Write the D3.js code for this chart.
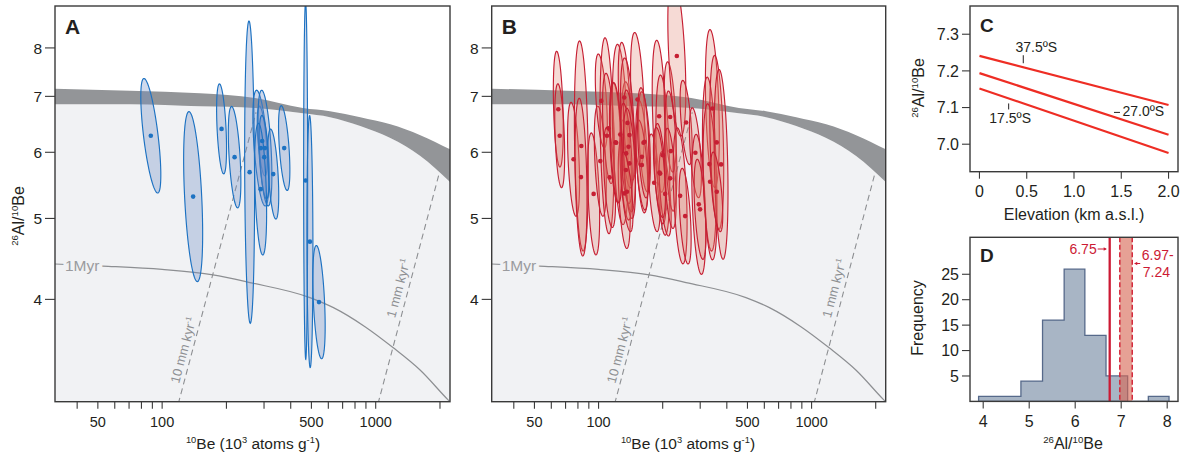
<!DOCTYPE html>
<html><head><meta charset="utf-8">
<script src="https://cdn.jsdelivr.net/npm/d3@7"></script>
<style>
body{margin:0;background:#fff}
text{font-family:"Liberation Sans",Arial,Helvetica,sans-serif;fill:#231f20}
</style>
</head><body><svg id="c" width="1189" height="456"></svg>
<script>
// ---------------- DATA ----------------
const beDomain = [31.5, 2228];
const ratioDomain = [3.017, 8.98];
const beMajorTicks = [50, 100, 500, 1000];
const beMinorTicks = [40, 60, 70, 80, 90, 200, 300, 400, 600, 700, 800, 900, 2000];
const ratioTicks = [4, 5, 6, 7, 8];

// grey band (constant exposure / steady-state envelope)
const bandBe    = [31.5, 70.6, 150.5, 272.4, 456, 611, 847, 1171, 1618, 2228];
const bandUpper = [7.15, 7.11, 7.06, 6.97, 6.78, 6.72, 6.61, 6.48, 6.29, 6.05];
const bandLower = [6.85, 6.85, 6.81, 6.78, 6.68, 6.61, 6.45, 6.24, 5.94, 5.53];

// 1 Myr burial isochron
const burialBe = [31.5, 52.7, 100, 173, 257.6, 492, 634, 891, 1209, 1618, 2188, 2260];
const burialR  = [4.41, 4.385, 4.345, 4.28, 4.19, 4.02, 3.91, 3.71, 3.50, 3.29, 3.03, 3.005];

// erosion-rate burial trajectories
const erosion10Be = [119, 275.4];
const erosion10R  = [3.0, 6.70];
const erosion1Be  = [1025, 1972];
const erosion1R   = [3.0, 5.63];

// Panel A samples (ellipse half-extents in %)
const aBe       = [88.5, 139.7, 189.8, 218.4, 256.8, 294.1, 290.0, 302.9, 300.6, 289.1, 331.3, 372.9, 469.9, 492, 542.5];
const aRatio    = [6.28, 5.31, 6.40, 5.92, 5.68, 6.19, 6.07, 6.07, 5.92, 5.42, 5.65, 6.07, 5.55, 4.69, 3.97];
const aBeErr    = [11.4, 10.8, 5.5, 7.0, 5.5, 5.5, 9.0, 7.8, 5.5, 6.7, 6.1, 6.3, 2.2, 3.3, 6.9];
const aRatioErr = [17.1, 26.4, 13.2, 15.0, 51.7, 10.1, 17.3, 17.3, 12.2, 19.9, 13.2, 12.4, 63.7, 41.5, 16.9];

// Panel B samples
const bBe = [64.7, 65.7, 76.3, 83.0, 82.7, 94.8, 101.9, 103.0, 109.5, 111.4,
             112.6, 120.1, 126.4, 132.0, 134.4, 138.2, 152.3, 159.7, 164.3, 182.4,
             192.5, 200.3, 194.6, 205.4, 216.8, 218.4, 216.8, 233.0, 241.5, 254.9,
             257.6, 284.8, 295.4, 299.6, 342.1, 331.3, 333.8, 358.8, 375.8, 358.8,
             132.0, 136.7, 139.7, 134.8, 139.7, 135.9, 159.7, 162.5, 193.1, 121.0];
const bRatio = [6.757, 6.28, 5.885, 6.105, 5.603, 5.35, 5.856, 6.913, 6.28, 6.409,
                5.599, 6.166, 6.302, 5.357, 5.714, 6.093, 6.940, 5.925, 6.176, 5.516,
                6.627, 5.953, 5.658, 5.35, 6.614, 6.020, 5.584, 7.824, 5.321, 5.032,
                6.514, 5.992, 5.198, 5.127, 6.770, 5.808, 5.531, 6.166, 5.803, 5.381,
                6.979, 6.506, 6.291, 5.982, 5.819, 5.381, 5.792, 6.159, 5.675, 6.159];
const bBeErr = [5.5, 5.5, 6.7, 7.8, 6.7, 6.7, 6.7, 6.7, 7.8, 6.7,
                6.7, 6.7, 9.0, 6.7, 6.7, 7.8, 7.8, 6.7, 6.7, 6.7,
                7.8, 7.8, 6.7, 6.7, 6.7, 6.7, 6.7, 10.2, 7.8, 6.7,
                6.7, 6.7, 7.8, 6.7, 7.8, 7.8, 7.8, 7.8, 7.8, 6.7,
                6.7, 7.8, 6.7, 6.7, 6.7, 6.7, 6.7, 6.7, 6.7, 6.7];
const bRatioErr = [17.3, 15.4, 17.0, 33.6, 24.3, 18.3, 16.4, 13.8, 31.0, 16.4,
                   14.8, 18.0, 28.2, 16.4, 14.8, 19.6, 20.3, 16.7, 14.8, 14.4,
                   23.3, 24.7, 14.8, 12.3, 16.4, 18.0, 14.8, 24.7, 20.6, 14.1,
                   12.3, 13.2, 21.3, 14.8, 24.3, 27.1, 24.0, 27.1, 29.9, 11.6,
                   16.4, 19.6, 13.2, 14.8, 16.4, 11.6, 13.2, 16.4, 13.2, 18.0];

// Panel C: production ratio vs elevation
const elevation = [0, 2.0];
const lat375 = [7.241, 7.107];
const lat270 = [7.194, 7.026];
const lat175 = [7.152, 6.976];
const cXTicks = [0, 0.5, 1.0, 1.5, 2.0];
const cYTicks = [7.0, 7.1, 7.2, 7.3];

// Panel D: histogram
const binEdges = [3.9, 4.36, 4.82, 5.29, 5.76, 6.21, 6.67, 7.14, 7.59, 8.04];
const binCounts = [1, 1, 4, 16, 26, 13, 5, 0, 1];
const meanRatio = 6.75;
const prodRange = [6.97, 7.24];
const dXTicks = [4, 5, 6, 7, 8];
const dYTicks = [5, 10, 15, 20, 25];

// ---------------- DRAW ----------------
const svg = d3.select("#c");
const INK = "#231f20", FRAME = "#3a3a3a";

function rich(t, parts, size) {
  let up = false;
  parts.forEach(([s, sup]) => {
    const ts = t.append("tspan").text(s);
    if (sup) { ts.attr("font-size", size * 0.6); if (!up) { ts.attr("dy", -size * 0.38); up = true; } }
    else if (up) { ts.attr("dy", size * 0.38); up = false; }
  });
}

function ellipsePath(x, y, be, r, eb, er) {
  const cx = Math.log10(be), cy = Math.log10(r);
  const sx = Math.log10(1 + eb / 100), sy = Math.log10(1 + er / 100);
  const rho = -Math.min(sx / sy, 0.98);
  const k = Math.sqrt(1 - rho * rho);
  const pts = d3.range(0, 96).map(i => {
    const t = i / 96 * 2 * Math.PI;
    const lx = cx + sx * Math.cos(t);
    const ly = cy + sy * (rho * Math.cos(t) + k * Math.sin(t));
    return [x(Math.pow(10, lx)), y(Math.pow(10, ly))];
  });
  return d3.line().curve(d3.curveLinearClosed)(pts);
}

function panelAB(o) {
  const top = 6, bot = 401.7;
  const x = d3.scaleLog().domain(beDomain).range([o.x0, o.x1]);
  const y = d3.scaleLog().domain(ratioDomain).range([bot, top]);
  const g = svg.append("g");
  g.append("clipPath").attr("id", o.id).append("rect")
    .attr("x", o.x0).attr("y", top).attr("width", o.x1 - o.x0).attr("height", bot - top);
  const pg = g.append("g").attr("clip-path", `url(#${o.id})`);
  pg.append("rect").attr("x", o.x0).attr("y", top).attr("width", o.x1 - o.x0).attr("height", bot - top).attr("fill", "#fff");

  const lowerPts = bandBe.map((b, i) => [b, bandLower[i]]);
  pg.append("path")
    .attr("d", d3.area().x(d => x(d[0])).y0(bot + 5).y1(d => y(d[1])).curve(d3.curveMonotoneX)(lowerPts))
    .attr("fill", "#f1f2f4");
  const bandPts = bandBe.map((b, i) => [b, bandUpper[i], bandLower[i]]);
  pg.append("path")
    .attr("d", d3.area().x(d => x(d[0])).y0(d => y(d[2])).y1(d => y(d[1])).curve(d3.curveMonotoneX)(bandPts))
    .attr("fill", "#939598");

  // erosion trajectories
  [[erosion10Be, erosion10R, "10 mm kyr", 0.17, 9], [erosion1Be, erosion1R, "1 mm kyr", 0.49, 10]].forEach(([bb, rr, lab, t, off]) => {
    const p0 = [x(bb[0]), y(rr[0])], p1 = [x(bb[1]), y(rr[1])];
    pg.append("line").attr("x1", p0[0]).attr("y1", p0[1]).attr("x2", p1[0]).attr("y2", p1[1])
      .attr("stroke", "#8d8f92").attr("stroke-width", 1.1).attr("stroke-dasharray", "6,4");
    const dx = p1[0] - p0[0], dy = p1[1] - p0[1], L = Math.hypot(dx, dy);
    const ux = dx / L, uy = dy / L;
    const yb = bot, yt = p1[1];
    const py = yb + (yt - yb) * t;
    const px = p0[0] + (py - p0[1]) * dx / dy;
    const lx = px + uy * off, ly = py - ux * off;
    const ang = Math.atan2(uy, ux) * 180 / Math.PI;
    const tx = pg.append("text").attr("transform", `translate(${lx},${ly}) rotate(${ang})`)
      .attr("text-anchor", "middle").attr("dy", "0.35em").attr("font-size", 13).style("fill", "#8d8f92");
    rich(tx, [[lab, 0], ["-1", 1]], 13);
  });

  // 1 Myr isochron
  const bur = burialBe.map((b, i) => [b, burialR[i]]);
  pg.append("path").attr("d", d3.line().x(d => x(d[0])).y(d => y(d[1])).curve(d3.curveMonotoneX)(bur))
    .attr("fill", "none").attr("stroke", "#8d8f92").attr("stroke-width", 1.2);
  pg.append("text").attr("x", o.x0 + 10).attr("y", y(4.39) + 5.5).attr("font-size", 15.5)
    .style("fill", "#9a9b9e").style("stroke", "#f1f2f4").style("stroke-width", 6).style("paint-order", "stroke")
    .text("1Myr");

  // ellipses
  const eg = pg.append("g");
  o.be.forEach((b, i) => {
    eg.append("path").attr("d", ellipsePath(x, y, b, o.r[i], o.eb[i], o.er[i]))
      .attr("fill", o.fill).attr("stroke", o.stroke).attr("stroke-width", 1.15);
  });
  o.be.forEach((b, i) => {
    eg.append("circle").attr("cx", x(b)).attr("cy", y(o.r[i])).attr("r", 2.3).attr("fill", o.stroke);
  });

  // frame
  g.append("rect").attr("x", o.x0).attr("y", top).attr("width", o.x1 - o.x0).attr("height", bot - top)
    .attr("fill", "none").attr("stroke", FRAME).attr("stroke-width", 1.4);

  // x ticks
  beMajorTicks.concat(beMinorTicks).forEach(v => {
    g.append("line").attr("x1", x(v)).attr("x2", x(v)).attr("y1", bot).attr("y2", bot + 7)
      .attr("stroke", FRAME).attr("stroke-width", 1.1);
  });
  beMajorTicks.forEach(v => {
    g.append("text").attr("x", x(v)).attr("y", 426.5).attr("text-anchor", "middle").attr("font-size", 14.5).text(v);
  });
  // y ticks
  ratioTicks.forEach(v => {
    g.append("line").attr("x1", o.x0 - 10).attr("x2", o.x0).attr("y1", y(v)).attr("y2", y(v))
      .attr("stroke", FRAME).attr("stroke-width", 1.1);
    g.append("text").attr("x", o.x0 - 13).attr("y", y(v)).attr("dy", "0.36em").attr("text-anchor", "end")
      .attr("font-size", 15.5).text(v);
  });
  // x title
  const xt = g.append("text").attr("x", o.titleX).attr("y", 448.5).attr("text-anchor", "middle").attr("font-size", 15.5);
  rich(xt, [["10", 1], ["Be (10", 0], ["3", 1], [" atoms g", 0], ["-1", 1], [")", 0]], 15.5);
  // panel letter
  g.append("text").attr("x", o.x0 + 10).attr("y", 33.5).attr("font-size", 21).attr("font-weight", "bold").text(o.letter);
}

panelAB({ id: "clipA", x0: 55, x1: 450, be: aBe, r: aRatio, eb: aBeErr, er: aRatioErr,
  fill: "rgba(110,140,198,0.33)", stroke: "#1d72c2", letter: "A", titleX: 253 });
panelAB({ id: "clipB", x0: 491.7, x1: 885.7, be: bBe, r: bRatio, eb: bBeErr, er: bRatioErr,
  fill: "rgba(222,118,98,0.27)", stroke: "#c61f33", letter: "B", titleX: 688 });

// y title for A
{
  const t = svg.append("text").attr("transform", "translate(24,216) rotate(-90)").attr("text-anchor", "middle").attr("font-size", 16);
  rich(t, [["26", 1], ["Al/", 0], ["10", 1], ["Be", 0]], 16);
}

// ---------- Panel C ----------
{
  const L = 970, R = 1178, T = 6, B = 171.7;
  const x = d3.scaleLinear().domain([-0.1, 2.1]).range([L, R]);
  const y = d3.scaleLinear().domain([6.925, 7.377]).range([B, T]);
  const g = svg.append("g");
  g.append("rect").attr("x", L).attr("y", T).attr("width", R - L).attr("height", B - T).attr("fill", "#fff");
  [lat375, lat270, lat175].forEach(v => {
    g.append("path").attr("d", d3.line().x(d => x(d[0])).y(d => y(d[1]))(elevation.map((e, i) => [e, v[i]])))
      .attr("stroke", "#ee2d24").attr("stroke-width", 2.2).attr("fill", "none");
  });
  const at = (v, e) => v[0] + (v[1] - v[0]) * e / 2;
  const e1 = 0.4635;
  g.append("line").attr("x1", x(e1)).attr("x2", x(e1)).attr("y1", y(at(lat375, e1)) - 4).attr("y2", y(at(lat375, e1)) - 12)
    .attr("stroke", INK).attr("stroke-width", 1);
  g.append("text").attr("x", x(e1) + 13).attr("y", y(at(lat375, e1)) - 15.5).attr("text-anchor", "middle").attr("font-size", 14).text("37.5ºS");
  const e3 = 0.309;
  g.append("line").attr("x1", x(e3)).attr("x2", x(e3)).attr("y1", y(at(lat175, e3)) + 5).attr("y2", y(at(lat175, e3)) + 11)
    .attr("stroke", INK).attr("stroke-width", 1);
  g.append("text").attr("x", x(e3) + 1.5).attr("y", y(at(lat175, e3)) + 24.5).attr("text-anchor", "middle").attr("font-size", 14).text("17.5ºS");
  const e2 = 1.423;
  g.append("line").attr("x1", x(e2)).attr("x2", x(e2) + 6).attr("y1", y(at(lat270, e2)) - 4.5).attr("y2", y(at(lat270, e2)) - 4.5)
    .attr("stroke", INK).attr("stroke-width", 1);
  g.append("text").attr("x", x(e2) + 8.5).attr("y", y(at(lat270, e2)) - 0.5).attr("font-size", 14).text("27.0ºS");

  g.append("rect").attr("x", L).attr("y", T).attr("width", R - L).attr("height", B - T)
    .attr("fill", "none").attr("stroke", FRAME).attr("stroke-width", 1.4);
  cXTicks.forEach(v => {
    g.append("line").attr("x1", x(v)).attr("x2", x(v)).attr("y1", B).attr("y2", B + 7).attr("stroke", FRAME).attr("stroke-width", 1.1);
    g.append("text").attr("x", x(v)).attr("y", B + 25.5).attr("text-anchor", "middle").attr("font-size", 16)
      .text(v === 0 ? "0" : v.toFixed(1));
  });
  cYTicks.forEach(v => {
    g.append("line").attr("x1", L - 8).attr("x2", L).attr("y1", y(v)).attr("y2", y(v)).attr("stroke", FRAME).attr("stroke-width", 1.1);
    g.append("text").attr("x", L - 11).attr("y", y(v)).attr("dy", "0.36em").attr("text-anchor", "end").attr("font-size", 16).text(v.toFixed(1));
  });
  g.append("text").attr("x", 1074).attr("y", 219.5).attr("text-anchor", "middle").attr("font-size", 16).text("Elevation (km a.s.l.)");
  g.append("text").attr("x", 980).attr("y", 32).attr("font-size", 19).attr("font-weight", "bold").text("C");
  const t = g.append("text").attr("transform", "translate(924,88) rotate(-90)").attr("text-anchor", "middle").attr("font-size", 16);
  rich(t, [["26", 1], ["Al/", 0], ["10", 1], ["Be", 0]], 16);
}

// ---------- Panel D ----------
{
  const L = 970, R = 1178, T = 237.3, B = 401.4;
  const x = d3.scaleLinear().domain([3.713, 8.235]).range([L, R]);
  const y = d3.scaleLinear().domain([0, 32.27]).range([B, T]);
  const g = svg.append("g");
  g.append("rect").attr("x", L).attr("y", T).attr("width", R - L).attr("height", B - T).attr("fill", "#fff");
  const pts = [[binEdges[0], 0]];
  binCounts.forEach((c, i) => { pts.push([binEdges[i], c]); pts.push([binEdges[i + 1], c]); });
  pts.push([binEdges[binEdges.length - 1], 0]);
  g.append("path").attr("d", d3.line().x(d => x(d[0])).y(d => y(d[1]))(pts) + "Z")
    .attr("fill", "#a8b5c5").attr("stroke", "#56698a").attr("stroke-width", 1.3).attr("stroke-linejoin", "miter");
  g.append("rect").attr("x", x(prodRange[0])).attr("y", T).attr("width", x(prodRange[1]) - x(prodRange[0])).attr("height", B - T)
    .attr("fill", "rgba(214,104,84,0.62)");
  prodRange.forEach(v => {
    g.append("line").attr("x1", x(v)).attr("x2", x(v)).attr("y1", T).attr("y2", B)
      .attr("stroke", "#d3283a").attr("stroke-width", 1.5).attr("stroke-dasharray", "5,2.5");
  });
  g.append("line").attr("x1", x(meanRatio)).attr("x2", x(meanRatio)).attr("y1", T).attr("y2", B)
    .attr("stroke", "#cc1a34").attr("stroke-width", 2.3);
  const red = "#cc1a34";
  g.append("text").attr("x", x(meanRatio) - 13).attr("y", 253.5).attr("text-anchor", "end").attr("font-size", 14).style("fill", red).text("6.75");
  g.append("line").attr("x1", x(meanRatio) - 12).attr("x2", x(meanRatio) - 3.5).attr("y1", 249).attr("y2", 249).attr("stroke", red).attr("stroke-width", 1);
  g.append("path").attr("d", `M${x(meanRatio) - 3},249 l-3,-1.8 l0,3.6 Z`).attr("fill", red);
  g.append("text").attr("x", x(prodRange[1]) + 9.5).attr("y", 260).attr("font-size", 14).style("fill", red).text("6.97-");
  g.append("text").attr("x", x(prodRange[1]) + 10.5).attr("y", 277).attr("font-size", 14).style("fill", red).text("7.24");
  g.append("line").attr("x1", x(prodRange[1]) + 8).attr("x2", x(prodRange[1]) + 2.5).attr("y1", 263.5).attr("y2", 263.5).attr("stroke", red).attr("stroke-width", 1);
  g.append("path").attr("d", `M${x(prodRange[1]) + 2},263.5 l3,-1.8 l0,3.6 Z`).attr("fill", red);

  g.append("rect").attr("x", L).attr("y", T).attr("width", R - L).attr("height", B - T)
    .attr("fill", "none").attr("stroke", FRAME).attr("stroke-width", 1.4);
  dXTicks.forEach(v => {
    g.append("line").attr("x1", x(v)).attr("x2", x(v)).attr("y1", B).attr("y2", B + 7).attr("stroke", FRAME).attr("stroke-width", 1.1);
    g.append("text").attr("x", x(v)).attr("y", B + 25.5).attr("text-anchor", "middle").attr("font-size", 16).text(v);
  });
  dYTicks.forEach(v => {
    g.append("line").attr("x1", L - 8).attr("x2", L).attr("y1", y(v)).attr("y2", y(v)).attr("stroke", FRAME).attr("stroke-width", 1.1);
    g.append("text").attr("x", L - 11).attr("y", y(v)).attr("dy", "0.36em").attr("text-anchor", "end").attr("font-size", 16).text(v);
  });
  g.append("text").attr("x", 980).attr("y", 262).attr("font-size", 19).attr("font-weight", "bold").text("D");
  const t = g.append("text").attr("x", 1073).attr("y", 449).attr("text-anchor", "middle").attr("font-size", 16);
  rich(t, [["26", 1], ["Al/", 0], ["10", 1], ["Be", 0]], 16);
  g.append("text").attr("transform", "translate(923,318) rotate(-90)").attr("text-anchor", "middle").attr("font-size", 16).text("Frequency");
}
</script></body></html>
